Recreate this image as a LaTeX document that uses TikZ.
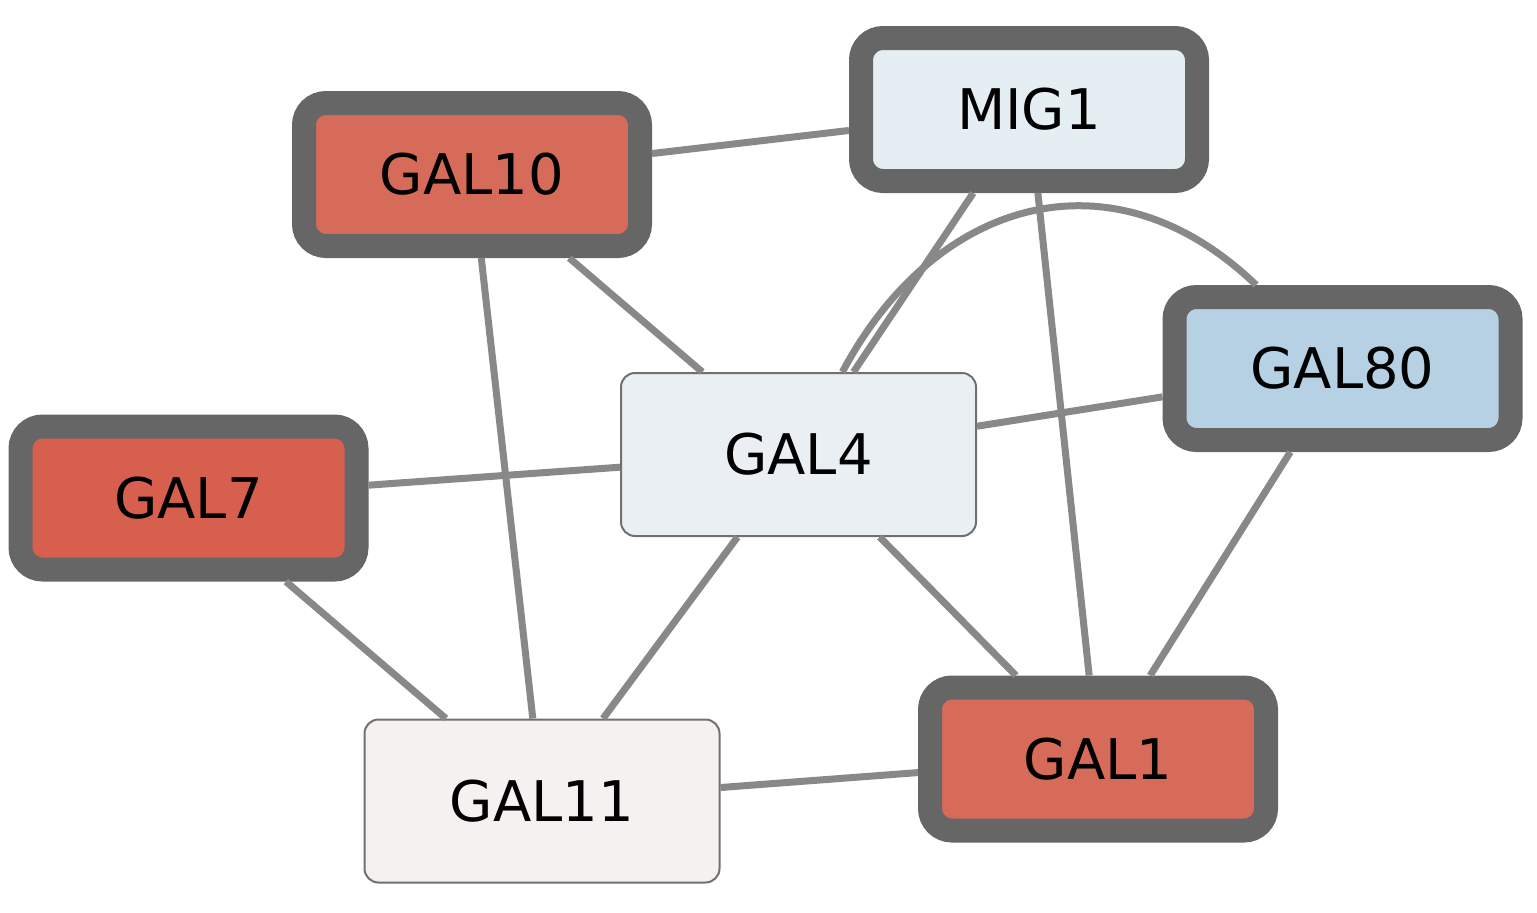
\documentclass[tikz,border=0pt]{standalone}
\usepackage{fontspec}
\setmainfont{DejaVu Sans}
\definecolor{hitborder}{HTML}{666666}
\definecolor{thinborder}{HTML}{707070}
\definecolor{linkgray}{HTML}{888888}
\definecolor{upred}{HTML}{D76B5A}
\definecolor{upredd}{HTML}{D6604D}
\definecolor{paleblue}{HTML}{E5EEF2}
\definecolor{midblue}{HTML}{B5D1E3}
\definecolor{gal4fill}{HTML}{E9EFF2}
\definecolor{gal11fill}{HTML}{F4F1F0}
\begin{document}
\begin{tikzpicture}[x=0.5pt, y=-0.5pt,
    gene/.style={rectangle, rounded corners=7pt, draw=thinborder, line width=1pt,
        minimum width=177.5pt, minimum height=81.5pt, font=\fontsize{28}{32}\selectfont},
    hit/.style={rectangle, rounded corners=11pt, draw=hitborder, line width=12pt,
        minimum width=168pt, minimum height=71.5pt, font=\fontsize{28}{32}\selectfont},
    link/.style={draw=linkgray, line width=3.5pt}]
    \useasboundingbox (0,0) rectangle (1537,912);

    % Geny
    \node (gal10) at (472,174.5) [hit, fill=upred] {GAL10};
    \node (mig1) at (1029,109.5) [hit, fill=paleblue] {MIG1};
    \node (gal80) at (1342.5,368.5) [hit, fill=midblue] {GAL80};
    \node (gal7) at (188.5,498) [hit, fill=upredd] {GAL7};
    \node (gal4) at (798.5,454.5) [gene, fill=gal4fill] {GAL4};
    \node (gal11) at (542,801) [gene, fill=gal11fill] {GAL11};
    \node (gal1) at (1098,759) [hit, fill=upred] {GAL1};

    % Polaczenia
    \draw[link] (gal10) -- (mig1);
    \draw[link] (gal10) -- (gal4);
    \draw[link] (gal10) -- (gal11);
    \draw[link] (mig1) -- (gal4);
    \draw[link] (mig1) -- (gal1);
    \draw[link] (gal4) to[out=62, in=136, looseness=1.2] (gal80);
    \draw[link] (gal4) -- (gal80);
    \draw[link] (gal7) -- (gal4);
    \draw[link] (gal7) -- (gal11);
    \draw[link] (gal4) -- (gal11);
    \draw[link] (gal4) -- (gal1);
    \draw[link] (gal80) -- (gal1);
    \draw[link] (gal11) -- (gal1);

\end{tikzpicture}
\end{document}
